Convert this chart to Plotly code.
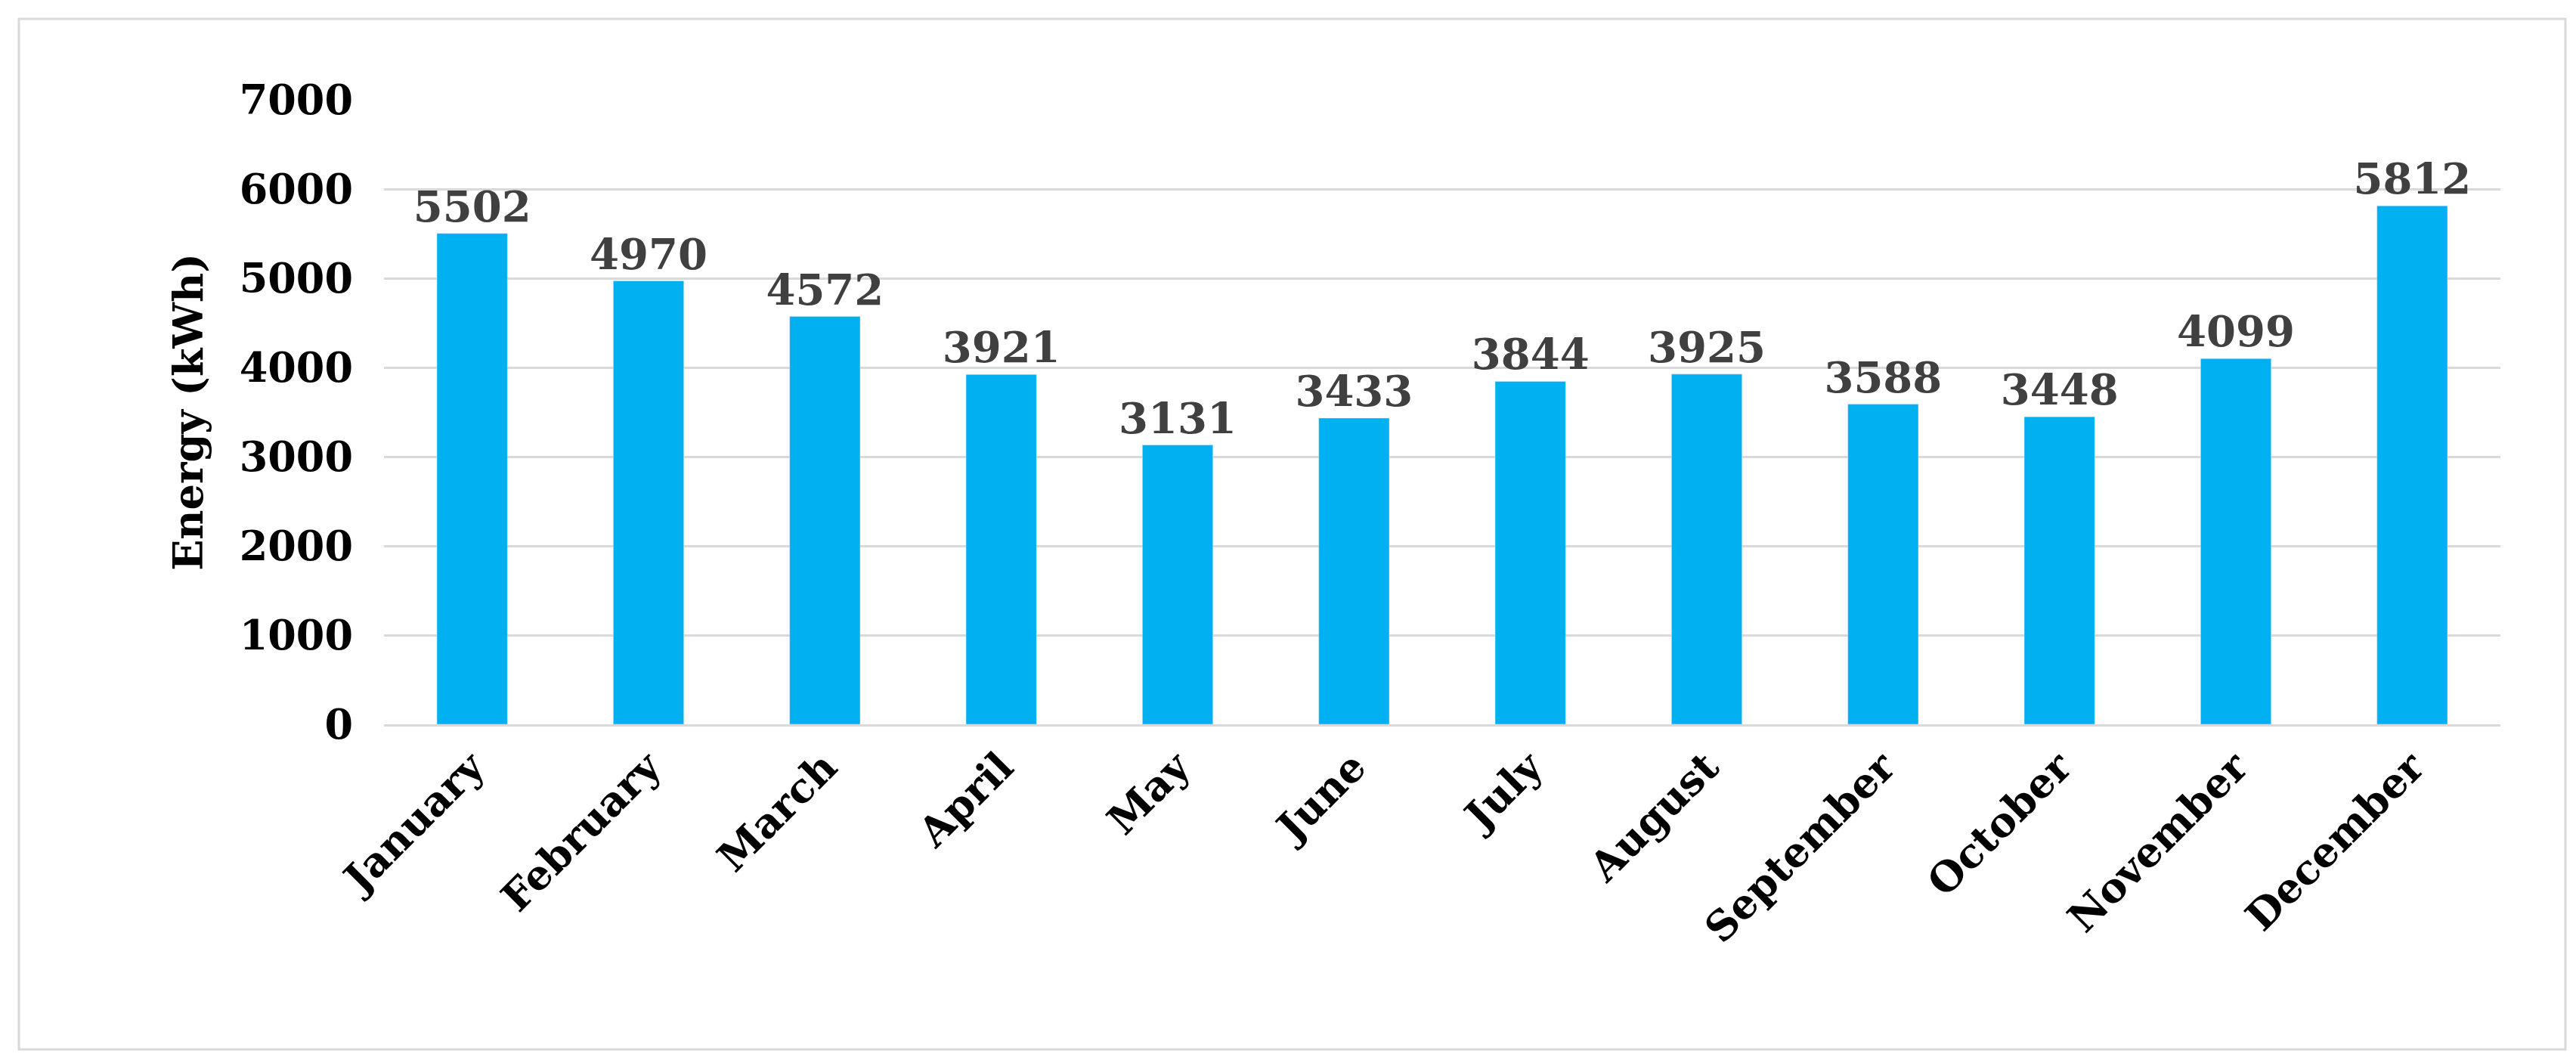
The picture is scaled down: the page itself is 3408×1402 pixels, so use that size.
import plotly.graph_objects as go

months = ["January","February","March","April","May","June","July","August","September","October","November","December"]
energy = [5502,4970,4572,3921,3131,3433,3844,3925,3588,3448,4099,5812]
yticks = [0,1000,2000,3000,4000,5000,6000,7000]

W, H = 3408, 1402
ml, mr, mt, mb = 500, 108, 124, 452
pw, ph = W-ml-mr, H-mt-mb

fig = go.Figure(go.Bar(
    x=months, y=energy, width=0.4, marker_color="#00B0F0",
    text=[str(v) for v in energy], textposition="outside", cliponaxis=False,
    constraintext="none",
    textfont=dict(family="DejaVu Serif", size=56, color="#404040", weight="bold"),
))
font = dict(family="DejaVu Serif", size=54, color="black", weight="bold")
fig.update_layout(
    width=W, height=H, margin=dict(l=ml, r=mr, t=mt, b=mb),
    plot_bgcolor="white", paper_bgcolor="white", showlegend=False,
    xaxis=dict(tickangle=-45, tickfont=font, showline=True, linecolor="#D9D9D9", linewidth=3),
    yaxis=dict(range=[0,7000], tickvals=yticks, tickfont=font, showgrid=True,
               gridcolor="#D9D9D9", gridwidth=3, zeroline=False, ticklabelstandoff=40,
               title=dict(text="<b>Energy (kWh)</b>", font=font, standoff=30)),
    font=dict(family="DejaVu Serif"),
)
fig.add_shape(type="rect", xref="paper", yref="paper",
              x0=(17-ml)/pw, x1=(3386-ml)/pw, y0=(H-mb-1380)/ph, y1=(H-mb-17)/ph,
              line=dict(color="#D9D9D9", width=3), fillcolor="rgba(0,0,0,0)")
fig.write_html("out.html")
